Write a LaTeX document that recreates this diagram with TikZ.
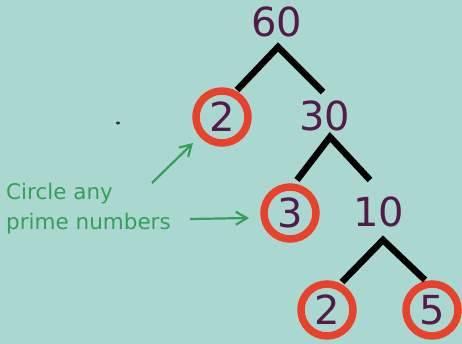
\documentclass[tikz,border=0pt]{standalone}
\usepackage{fontspec}
\setmainfont{DejaVu Sans}
\usetikzlibrary{arrows.meta}
\definecolor{bg}{RGB}{170,216,208}
\definecolor{num}{RGB}{84,26,72}
\definecolor{ring}{RGB}{232,66,44}
\definecolor{note}{RGB}{52,160,90}
\begin{document}
\begin{tikzpicture}[x=1pt,y=-1pt,
  numtxt/.style={text=num,font=\fontsize{40}{42}\selectfont,inner sep=0pt},
  prime/.style={numtxt,circle,draw=ring,line width=7.5pt,minimum size=52pt},
  branch/.style={line width=6.5pt,black,line cap=butt,line join=miter},
  notearrow/.style={note,line width=2.2pt,-{Straight Barb[length=11pt,width=13pt,line width=2.2pt]}},
  notetxt/.style={text=note,font=\fontsize{21.5}{30}\selectfont,align=left,inner sep=0pt}]
\fill[bg] (0,0) rectangle (462,344);
\useasboundingbox (0,0) rectangle (462,344);
% numbers
\node[numtxt] (n60) at (277,22) {60};
\node[prime] (p2a) at (222,117) {2};
\node[numtxt] (n30) at (325,116) {30};
\node[prime] (p3) at (290,213) {3};
\node[numtxt] (n10) at (379,212) {10};
\node[prime] (p2b) at (327,310) {2};
\node[prime] (p5) at (432,310) {5};
% branches
\coordinate (a60) at (278,47);
\coordinate (l60) at (237,90);
\coordinate (r60) at (323,92);
\coordinate (a30) at (330,137);
\coordinate (l30) at (297,180);
\coordinate (r30) at (370,180);
\coordinate (a10) at (383,240);
\coordinate (l10) at (342,282);
\coordinate (r10) at (425,280);
\draw[branch] (l60) -- (a60) -- (r60);
\draw[branch] (l30) -- (a30) -- (r30);
\draw[branch] (l10) -- (a10) -- (r10);
% note
\node[notetxt,anchor=west] (note) at (6,209) {Circle any\\prime numbers};
\coordinate (s1) at (152,183);
\coordinate (e1) at (193,143);
\coordinate (s2) at (190,219);
\coordinate (e2) at (249,218);
\draw[notearrow] (s1) -- (e1);
\draw[notearrow] (s2) -- (e2);
\fill[black!80] (118,123) ellipse (2pt and 1.5pt);
\end{tikzpicture}
\end{document}
